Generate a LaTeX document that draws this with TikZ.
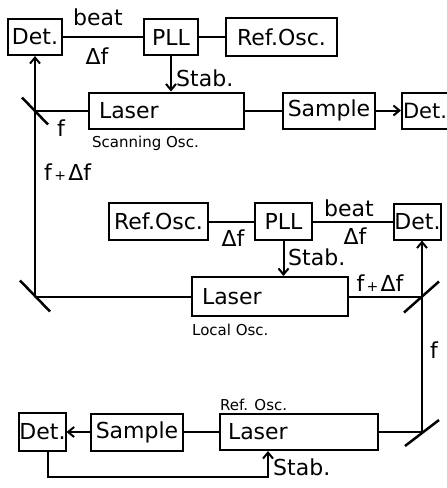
\documentclass[tikz,border=0pt]{standalone}
\usepackage{fontspec}
\setmainfont{DejaVu Sans}
\usetikzlibrary{arrows.meta,positioning,calc}

\newcommand{\splus}{{\fontsize{14}{14}\selectfont\,+\,}}

\begin{document}
\begin{tikzpicture}[x=1pt, y=-1pt,
  box/.style={draw, line width=2pt, inner sep=0pt, minimum height=36pt, font=\fontsize{22}{24}\selectfont},
  laserbox/.style={box, inner xsep=10pt, text width=#1, align=left},
  lbl/.style={font=\fontsize{22}{24}\selectfont, inner sep=1pt},
  small/.style={font=\fontsize{15}{17}\selectfont, inner sep=0pt, anchor=west},
  wire/.style={line width=2pt},
  arr/.style={-{Straight Barb[length=6pt,width=10pt]}, line width=2pt},
  mirror/.style={line width=2.5pt}
]
\useasboundingbox (0,0) rectangle (447,488);

% scanning oscillator
\node[box, minimum width=54pt] (det1) at (35,37) {Det.};
\node[box, minimum width=54pt] (pll1) at (171,37) {PLL};
\node[box, minimum width=111pt, minimum height=38pt] (ref1) at (281.5,37) {Ref.Osc.};
\node[laserbox=135pt] (las1) at (166.5,110.5) {Laser};
\node[box, minimum width=92pt] (smp1) at (329,110.5) {Sample};
\node[box, minimum width=46pt, font=\fontsize{21}{24}\selectfont] (det2) at (425,110.5) {Det.};
\draw[wire] (det1) -- (pll1);
\draw[wire] (pll1) -- (ref1);
\draw[arr] (pll1) -- (pll1 |- las1.north);
\draw[wire] (las1) -- (smp1);
\draw[arr] (smp1) -- (det2);
\node[lbl] (beat1) at (98,17) {beat};
\node[lbl] (df1) at (97,56) {Δf};
\node[lbl, anchor=west] (stab1) at (175,78) {Stab.};
\node[small] (scan) at (92,143) {Scanning Osc.};

% local oscillator
\node[box, minimum width=99pt, minimum height=37pt] (ref2) at (158.5,221.5) {Ref.Osc.};
\node[box, minimum width=57pt, minimum height=37pt] (pll2) at (283.5,221.5) {PLL};
\node[box, minimum width=47pt] (det3) at (417.5,221.5) {Det.};
\node[laserbox=136pt, minimum height=39pt] (las2) at (270,296.5) {Laser};
\draw[wire] (ref2) -- (pll2);
\draw[wire] (pll2) -- (det3);
\draw[arr] (pll2) -- (pll2 |- las2.north);
\node[lbl] (df2) at (233,238) {Δf};
\node[lbl] (beat2) at (349,208) {beat};
\node[lbl] (df3) at (355,236) {Δf};
\node[lbl, anchor=west] (stab2) at (287,257) {Stab.};
\node[small] (loc) at (192,330) {Local Osc.};

% reference oscillator
\node[box, minimum width=45pt, minimum height=38pt] (det4) at (42.5,432) {Det.};
\node[box, minimum width=92pt, minimum height=37pt] (smp3) at (137,432) {Sample};
\node[laserbox=142pt, inner xsep=8pt] (las3) at (299,432) {Laser};
\draw[wire] (las3) -- (smp3);
\draw[arr] (smp3) -- (det4);
\coordinate (fb) at (268,477);
\draw[arr] ([xshift=5pt]det4.south) |- (fb) -- (fb |- las3.south);
\node[small] (refosc) at (220,405) {Ref. Osc.};
\node[lbl, anchor=west] (stab3) at (272,467) {Stab.};

% mirrors and beams
\coordinate (m1) at (35,110.5);
\coordinate (m2) at (35,296.5);
\coordinate (m3) at (422,296.5);
\coordinate (m4) at (422,432);
\draw[mirror] ($(m1)+(-13,-13)$) -- ($(m1)+(13,14)$);
\draw[mirror] ($(m2)+(-15,-16)$) -- ($(m2)+(15,15)$);
\draw[mirror] ($(m3)+(-18,16)$) -- ($(m3)+(17,-15)$);
\draw[mirror] ($(m4)+(-17,14)$) -- ($(m4)+(17,-12)$);
\draw[wire] (las1) -- (m1);
\draw[wire] (las2) -- (m2);
\draw[wire] (las2) -- (m3);
\draw[wire] (las3) -- (m4);
\draw[arr] (m2) -- (det1);
\draw[arr] (m4) -- (m4 |- det3.south);
\node[lbl] (f1) at (61,128) {f};
\node[lbl, anchor=west] (fdf1) at (43,172) {f\splus Δf};
\node[lbl] (fdf2) at (380,283) {f\splus Δf};
\node[lbl] (f2) at (434,350) {f};

\end{tikzpicture}
\end{document}
